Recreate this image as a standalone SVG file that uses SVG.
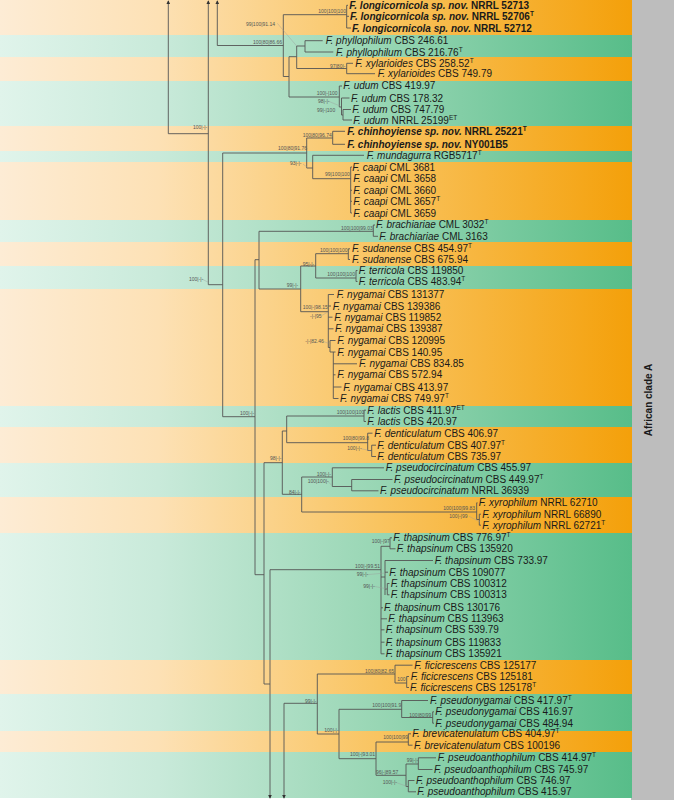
<svg xmlns="http://www.w3.org/2000/svg" width="674" height="800" viewBox="0 0 674 800">
<defs>
<linearGradient id="go" gradientUnits="userSpaceOnUse" x1="0" y1="0" x2="632" y2="0">
<stop offset="0" stop-color="#fdecd5"/><stop offset="0.25" stop-color="#fde1b5"/><stop offset="0.6" stop-color="#f9c460"/><stop offset="1" stop-color="#f4a00a"/>
</linearGradient>
<linearGradient id="gg" gradientUnits="userSpaceOnUse" x1="0" y1="0" x2="632" y2="0">
<stop offset="0" stop-color="#e0f4eb"/><stop offset="0.25" stop-color="#c9eada"/><stop offset="0.6" stop-color="#98d6b4"/><stop offset="1" stop-color="#57bd89"/>
</linearGradient>
<marker id="arr" viewBox="0 0 6 6" refX="5" refY="3" markerWidth="4" markerHeight="4" markerUnits="userSpaceOnUse" orient="auto"><path d="M0,0 L6,3 L0,6 z" fill="#333"/></marker>
<style>
.t{font-family:"Liberation Sans",Arial,sans-serif;font-size:10px;fill:#1a1a1a}
.i{font-style:italic}
.b{font-weight:bold}
.sup{font-size:6.5px}
.s{font-family:"Liberation Sans",Arial,sans-serif;font-size:5px;fill:#555}
.br{fill:none;stroke:#555;stroke-width:0.9}
.ld{fill:none;stroke:#999;stroke-width:0.4}
.o{fill:url(#go)}
.g{fill:url(#gg)}
</style>
</defs>
<rect x="0" y="0" width="674" height="800" fill="#ffffff"/>
<rect x="631" y="0" width="43" height="800" fill="#bdbdbd"/>
<g id="bands">
<rect class="o" x="0" y="0" width="632" height="35"/>
<rect class="g" x="0" y="35" width="632" height="22"/>
<rect class="o" x="0" y="57" width="632" height="24"/>
<rect class="g" x="0" y="81" width="632" height="45"/>
<rect class="o" x="0" y="126" width="632" height="25"/>
<rect class="g" x="0" y="151" width="632" height="11"/>
<rect class="o" x="0" y="162" width="632" height="58"/>
<rect class="g" x="0" y="220" width="632" height="22"/>
<rect class="o" x="0" y="242" width="632" height="24"/>
<rect class="g" x="0" y="266" width="632" height="23"/>
<rect class="o" x="0" y="289" width="632" height="117"/>
<rect class="g" x="0" y="406" width="632" height="21"/>
<rect class="o" x="0" y="427" width="632" height="36"/>
<rect class="g" x="0" y="463" width="632" height="34"/>
<rect class="o" x="0" y="497" width="632" height="36"/>
<rect class="g" x="0" y="533" width="632" height="127"/>
<rect class="o" x="0" y="660" width="632" height="34"/>
<rect class="g" x="0" y="694" width="632" height="37"/>
<rect class="o" x="0" y="731" width="632" height="21"/>
<rect class="g" x="0" y="752" width="632" height="46"/>
</g>
<text class="t b" transform="translate(651.5,400) rotate(-90)" text-anchor="middle" fill="#222">African clade A</text>

<g id="connectors">
<path class="br" marker-end="url(#arr)" d="M208.3,133.7 H168.3 V1"/>
<path class="br" marker-end="url(#arr)" d="M222.7,284.7 H208.3 V1"/>
<path class="br" marker-end="url(#arr)" d="M283.3,45.5 H217.3 V1"/>
<path class="br" marker-end="url(#arr)" d="M381,569.7 H270 V798"/>
<path class="br" marker-end="url(#arr)" d="M317.3,703.3 H284 V798"/>
<path class="br" d="
M283.3,14.7 V76.5 M283.3,14.7 H346.7 M346.7,5.3 V28 M346.7,5.3 H348 M346.7,16.3 H349 M346.7,28 H351
M283.3,76.5 H289 M289,56.7 V97 M289,56.7 H296.7 M296.7,46 V68.5 M296.7,46 H305 M305,40.7 V52 M305,40.7 H322.7 M305,52 H333.3
M296.7,68.5 H346.7 M346.7,63.3 V73.7 M346.7,63.3 H353 M346.7,73.7 H375
M289,97 H339.3 M339.3,86 V107 M339.3,86 H342 M339.3,107 H341.5 M341.5,98 V115 M341.5,98 H349.5 M341.5,115 H343 M343,109.5 V120 M343,109.5 H351 M343,120 H352
M222.7,153 V416.7 M222.7,153 H306.7 M306.7,138 V168 M306.7,138 H332.7 M332.7,131.3 V144.3 M332.7,131.3 H345 M332.7,144.3 H345
M306.7,168 H312.7 M312.7,155.3 V178.7 M312.7,155.3 H364 M312.7,178.7 H350.7 M350.7,167 V213 M350.7,167 H352 M350.7,190.3 H352 M350.7,201.3 H352 M350.7,213 H352
M222.7,416.7 H255 M255,259.7 V574.7 M255,259.7 H259 M259,231.3 V289 M259,231.3 H373.3 M373.3,225 V236.3 M373.3,225 H375 M373.3,236.3 H378
M259,289 H300.7 M300.7,266 V311.7 M300.7,266 H315.7 M315.7,253.7 V278 M315.7,253.7 H348.3 M348.3,248.8 V259.5 M348.3,248.8 H350 M348.3,259.5 H350
M315.7,278 H356 M356,270.5 V281.5 M356,270.5 H357.5 M356,281.5 H357.5
M300.7,311.7 H328.3 M328.3,294.5 V347.5 M328.3,294.5 H334 M328.3,306 H331 M328.3,317.2 H332.5 M328.3,328.8 H333.5 M328.3,347.5 H330 M330,340.5 V352 M330,340.5 H335.5 M330,352 H335.5
M333.3,352 V398.5 M333.3,363.8 H357 M333.3,374.8 H335.5 M333.3,387 H341.5 M333.3,398.5 H338.5
M255,574.7 H264 M264,462.7 V684 M264,462.7 H282.3 M282.3,431 V494.3 M282.3,431 H286.7 M286.7,416 V442.7 M286.7,416 H364 M364,410.2 V421.5 M364,410.2 H366 M364,421.5 H366
M286.7,442.7 H367.7 M367.7,433.2 V450.5 M367.7,433.2 H372.5 M367.7,450.5 H371.7 M371.7,445.2 V456.5 M371.7,445.2 H376 M371.7,456.5 H376
M282.3,494.3 H301.7 M301.7,477 V512 M301.7,477 H332.3 M332.3,467.8 V486.5 M332.3,467.8 H384 M332.3,486.5 H351.7 M351.7,479.5 V490.8 M351.7,479.5 H392.5 M351.7,490.8 H378.5
M301.7,512 H476.7 M476.7,502.8 V519.5 M476.7,502.8 H477.5 M476.7,519.5 H479.3 M479.3,514.2 V525.2 M479.3,514.2 H481 M479.3,525.2 H481
M264,684 H270
M381,546.3 V653.8 M381,546.3 H390 M390,537.8 V548.8 M390,537.8 H392 M390,548.8 H395.5
M381,577 H385 M385,560.5 V595 M385,560.5 H433 M385,572.2 H388 M385,589 H387.3 M387.3,583.5 V594.8 M387.3,583.5 H389.5 M387.3,594.8 H389.5
M381,607.8 H383 M381,618.8 H387 M381,629.8 H384.5 M381,642.2 H384.5 M381,653.8 H384.5
M317.3,674 V734 M317.3,674 H395 M395,665.2 V683 M395,665.2 H412.5 M395,683 H406.7 M406.7,676.5 V687.5 M406.7,676.5 H409 M406.7,687.5 H409
M317.3,734 H339 M339,709.3 V758.7 M339,709.3 H401.7 M401.7,700.5 V717.5 M401.7,700.5 H428 M401.7,717.5 H432.7 M432.7,711.8 V723.2 M432.7,711.8 H434 M432.7,723.2 H434
M339,758.7 H376 M376,742 V775.3 M376,742 H408.3 M408.3,733.8 V745.2 M408.3,733.8 H411 M408.3,745.2 H412.5
M376,775.3 H406 M406,764 V786.5 M406,764 H418.3 M418.3,757.8 V769.5 M418.3,757.8 H436 M418.3,769.5 H432.5
M406,786.5 H408.3 M408.3,780.5 V791.8 M408.3,780.5 H414.5 M408.3,791.8 H416
"/>
<path class="ld" d="M277.3,23.3 L296.7,46 M328,101 L340,106 M303,164 L308,168 M202,279 L208.3,282.3 M321,316 L327.3,312.3 M324,341.7 L328.3,343.3 M361,448.7 L371.7,451 M327.5,481 L331.7,485.3 M469,516.3 L480,522 M367,574.7 L385,573 M374,586.3 L387.3,589 M395.5,782.3 L406.7,786.3"/>
</g>

<g id="support">
<text class="s" x="318.3" y="13.2">100|100|100</text>
<text class="s" x="246" y="26">99|100|91.14</text>
<text class="s" x="253" y="44">100|80|86.66</text>
<text class="s" x="330" y="67.7">97|80|-</text>
<text class="s" x="316.7" y="95">100|-|100</text>
<text class="s" x="318" y="103">98|-|-</text>
<text class="s" x="317" y="112">99|-|100</text>
<text class="s" x="193" y="128.7">100|-|-</text>
<text class="s" x="302.7" y="137">100|80|96.74</text>
<text class="s" x="278" y="150.4">100|80|91.76</text>
<text class="s" x="290" y="165.4">93|-|-</text>
<text class="s" x="325" y="176.4">99|100|100</text>
<text class="s" x="341" y="229.7">100|100|99.03</text>
<text class="s" x="320" y="252.4">100|100|100</text>
<text class="s" x="302.7" y="265.7">95|-|-</text>
<text class="s" x="327.3" y="275.7">100|100|100</text>
<text class="s" x="189" y="280.7">100|-|-</text>
<text class="s" x="286.7" y="287.4">99|-|-</text>
<text class="s" x="302.7" y="309">100|-|98.15</text>
<text class="s" x="310" y="318">-|-|95</text>
<text class="s" x="305.3" y="343.4">-|-|82.46</text>
<text class="s" x="240" y="415">100|-|-</text>
<text class="s" x="336.7" y="414.4">100|100|100</text>
<text class="s" x="342.7" y="440.4">100|80|99.8</text>
<text class="s" x="347.3" y="450.4">100|-|-</text>
<text class="s" x="270" y="460.4">98|-|-</text>
<text class="s" x="316.7" y="476.4">100|-|-</text>
<text class="s" x="307.7" y="482.7">100|100|-</text>
<text class="s" x="289" y="494.4">84|-|-</text>
<text class="s" x="443.3" y="510.4">100|100|99.83</text>
<text class="s" x="449.3" y="518">100|-|99</text>
<text class="s" x="371.7" y="543">100|-|97</text>
<text class="s" x="355" y="568">100|-|99.51</text>
<text class="s" x="356.7" y="576.4">99|-|-</text>
<text class="s" x="363.3" y="588">99|-|-</text>
<text class="s" x="365" y="673.4">100|80|82.65</text>
<text class="s" x="397.3" y="681">100</text>
<text class="s" x="305" y="703.4">99|-|-</text>
<text class="s" x="372.3" y="706.7">100|100|91.9</text>
<text class="s" x="409.3" y="716.7">100|80|99</text>
<text class="s" x="324.3" y="732.4">100|-|-</text>
<text class="s" x="383.3" y="739">100|100|99</text>
<text class="s" x="350" y="756.4">100|-|93.01</text>
<text class="s" x="406.7" y="762.4">99|-|-</text>
<text class="s" x="376" y="774">96|-|89.57</text>
<text class="s" x="382.7" y="784">100|-|-</text>
</g>

<g id="longicornicola">
<text class="t b" x="349.3" y="9"><tspan class="i">F. longicornicola sp. nov.</tspan> NRRL 52713</text>
<text class="t b" x="350" y="20"><tspan class="i">F. longicornicola sp. nov.</tspan> NRRL 52706<tspan class="sup" dy="-4">T</tspan></text>
<text class="t b" x="352" y="31.7"><tspan class="i">F. longicornicola sp. nov.</tspan> NRRL 52712</text>
</g>
<g id="phyllophilum">
<text class="t" x="325.7" y="44"><tspan class="i">F. phyllophilum</tspan> CBS 246.61</text>
<text class="t" x="336" y="55.5"><tspan class="i">F. phyllophilum</tspan> CBS 216.76<tspan class="sup" dy="-4">T</tspan></text>
</g>
<g id="xylarioides">
<text class="t" x="355.3" y="66.8"><tspan class="i">F. xylarioides</tspan> CBS 258.52<tspan class="sup" dy="-4">T</tspan></text>
<text class="t" x="377.7" y="77.2"><tspan class="i">F. xylarioides</tspan> CBS 749.79</text>
</g>
<g id="udum">
<text class="t" x="343.3" y="89.4"><tspan class="i">F. udum</tspan> CBS 419.97</text>
<text class="t" x="351" y="101.5"><tspan class="i">F. udum</tspan> CBS 178.32</text>
<text class="t" x="352.3" y="112.9"><tspan class="i">F. udum</tspan> CBS 747.79</text>
<text class="t" x="353.3" y="123.5"><tspan class="i">F. udum</tspan> NRRL 25199<tspan class="sup" dy="-4">ET</tspan></text>
</g>
<g id="chinhoyiense">
<text class="t b" x="347.3" y="134.8"><tspan class="i">F. chinhoyiense sp. nov.</tspan> NRRL 25221<tspan class="sup" dy="-4">T</tspan></text>
<text class="t b" x="347.3" y="147.8"><tspan class="i">F. chinhoyiense sp. nov.</tspan> NY001B5</text>
</g>
<g id="mundagurra">
<text class="t" x="366.7" y="158.8"><tspan class="i">F. mundagurra</tspan> RGB5717<tspan class="sup" dy="-4">T</tspan></text>
</g>
<g id="caapi">
<text class="t" x="352.3" y="170.5"><tspan class="i">F. caapi</tspan> CML 3681</text>
<text class="t" x="353.3" y="182.1"><tspan class="i">F. caapi</tspan> CML 3658</text>
<text class="t" x="353.3" y="193.8"><tspan class="i">F. caapi</tspan> CML 3660</text>
<text class="t" x="353.3" y="204.8"><tspan class="i">F. caapi</tspan> CML 3657<tspan class="sup" dy="-4">T</tspan></text>
<text class="t" x="353.3" y="216.5"><tspan class="i">F. caapi</tspan> CML 3659</text>
</g>
<g id="brachiariae">
<text class="t" x="376" y="228.1"><tspan class="i">F. brachiariae</tspan> CML 3032<tspan class="sup" dy="-4">T</tspan></text>
<text class="t" x="379.3" y="239.8"><tspan class="i">F. brachiariae</tspan> CML 3163</text>
</g>
<g id="sudanense">
<text class="t" x="352" y="252.3"><tspan class="i">F. sudanense</tspan> CBS 454.97<tspan class="sup" dy="-4">T</tspan></text>
<text class="t" x="352" y="263"><tspan class="i">F. sudanense</tspan> CBS 675.94</text>
</g>
<g id="terricola">
<text class="t" x="358.7" y="274"><tspan class="i">F. terricola</tspan> CBS 119850</text>
<text class="t" x="358.7" y="285"><tspan class="i">F. terricola</tspan> CBS 483.94<tspan class="sup" dy="-4">T</tspan></text>
</g>
<g id="nygamai">
<text class="t" x="336.7" y="298"><tspan class="i">F. nygamai</tspan> CBS 131377</text>
<text class="t" x="332.7" y="309.7"><tspan class="i">F. nygamai</tspan> CBS 139386</text>
<text class="t" x="334.3" y="320.7"><tspan class="i">F. nygamai</tspan> CBS 119852</text>
<text class="t" x="335" y="332.3"><tspan class="i">F. nygamai</tspan> CBS 139387</text>
<text class="t" x="337.3" y="344"><tspan class="i">F. nygamai</tspan> CBS 120995</text>
<text class="t" x="337.3" y="355.7"><tspan class="i">F. nygamai</tspan> CBS 140.95</text>
<text class="t" x="359" y="367.3"><tspan class="i">F. nygamai</tspan> CBS 834.85</text>
<text class="t" x="337.3" y="378.3"><tspan class="i">F. nygamai</tspan> CBS 572.94</text>
<text class="t" x="343.3" y="390.7"><tspan class="i">F. nygamai</tspan> CBS 413.97</text>
<text class="t" x="340" y="402"><tspan class="i">F. nygamai</tspan> CBS 749.97<tspan class="sup" dy="-4">T</tspan></text>
</g>
<g id="lactis">
<text class="t" x="367.3" y="413.7"><tspan class="i">F. lactis</tspan> CBS 411.97<tspan class="sup" dy="-4">ET</tspan></text>
<text class="t" x="367.3" y="425"><tspan class="i">F. lactis</tspan> CBS 420.97</text>
</g>
<g id="denticulatum">
<text class="t" x="374.3" y="436.7"><tspan class="i">F. denticulatum</tspan> CBS 406.97</text>
<text class="t" x="377.3" y="448.7"><tspan class="i">F. denticulatum</tspan> CBS 407.97<tspan class="sup" dy="-4">T</tspan></text>
<text class="t" x="377.3" y="460"><tspan class="i">F. denticulatum</tspan> CBS 735.97</text>
</g>
<g id="pseudocircinatum">
<text class="t" x="385.7" y="471.3"><tspan class="i">F. pseudocircinatum</tspan> CBS 455.97</text>
<text class="t" x="394" y="483"><tspan class="i">F. pseudocircinatum</tspan> CBS 449.97<tspan class="sup" dy="-4">T</tspan></text>
<text class="t" x="380" y="494.3"><tspan class="i">F. pseudocircinatum</tspan> NRRL 36939</text>
</g>
<g id="xyrophilum">
<text class="t" x="478.7" y="506.3"><tspan class="i">F. xyrophilum</tspan> NRRL 62710</text>
<text class="t" x="482.3" y="517.7"><tspan class="i">F. xyrophilum</tspan> NRRL 66890</text>
<text class="t" x="482.3" y="528.7"><tspan class="i">F. xyrophilum</tspan> NRRL 62721<tspan class="sup" dy="-4">T</tspan></text>
</g>
<g id="thapsinum">
<text class="t" x="393.3" y="541.3"><tspan class="i">F. thapsinum</tspan> CBS 776.97<tspan class="sup" dy="-4">T</tspan></text>
<text class="t" x="396.7" y="552.3"><tspan class="i">F. thapsinum</tspan> CBS 135920</text>
<text class="t" x="434.7" y="564"><tspan class="i">F. thapsinum</tspan> CBS 733.97</text>
<text class="t" x="389.3" y="575.7"><tspan class="i">F. thapsinum</tspan> CBS 109077</text>
<text class="t" x="390.7" y="587"><tspan class="i">F. thapsinum</tspan> CBS 100312</text>
<text class="t" x="390.7" y="598.3"><tspan class="i">F. thapsinum</tspan> CBS 100313</text>
<text class="t" x="384" y="611.3"><tspan class="i">F. thapsinum</tspan> CBS 130176</text>
<text class="t" x="388.3" y="622.3"><tspan class="i">F. thapsinum</tspan> CBS 113963</text>
<text class="t" x="385.7" y="633.3"><tspan class="i">F. thapsinum</tspan> CBS 539.79</text>
<text class="t" x="385.7" y="645.7"><tspan class="i">F. thapsinum</tspan> CBS 119833</text>
<text class="t" x="385.7" y="657.3"><tspan class="i">F. thapsinum</tspan> CBS 135921</text>
</g>
<g id="ficicrescens">
<text class="t" x="414.3" y="668.7"><tspan class="i">F. ficicrescens</tspan> CBS 125177</text>
<text class="t" x="410.7" y="680"><tspan class="i">F. ficicrescens</tspan> CBS 125181</text>
<text class="t" x="410" y="691"><tspan class="i">F. ficicrescens</tspan> CBS 125178<tspan class="sup" dy="-4">T</tspan></text>
</g>
<g id="pseudonygamai">
<text class="t" x="430" y="704"><tspan class="i">F. pseudonygamai</tspan> CBS 417.97<tspan class="sup" dy="-4">T</tspan></text>
<text class="t" x="435.3" y="715.3"><tspan class="i">F. pseudonygamai</tspan> CBS 416.97</text>
<text class="t" x="435.3" y="726.7"><tspan class="i">F. pseudonygamai</tspan> CBS 484.94</text>
</g>
<g id="brevicatenulatum">
<text class="t" x="412.3" y="737.3"><tspan class="i">F. brevicatenulatum</tspan> CBS 404.97<tspan class="sup" dy="-4">T</tspan></text>
<text class="t" x="414" y="748.7"><tspan class="i">F. brevicatenulatum</tspan> CBS 100196</text>
</g>
<g id="pseudoanthophilum">
<text class="t" x="437.7" y="761.3"><tspan class="i">F. pseudoanthophilum</tspan> CBS 414.97<tspan class="sup" dy="-4">T</tspan></text>
<text class="t" x="434" y="773"><tspan class="i">F. pseudoanthophilum</tspan> CBS 745.97</text>
<text class="t" x="416" y="784"><tspan class="i">F. pseudoanthophilum</tspan> CBS 746.97</text>
<text class="t" x="417.3" y="795.3"><tspan class="i">F. pseudoanthophilum</tspan> CBS 415.97</text>
</g>
</svg>
